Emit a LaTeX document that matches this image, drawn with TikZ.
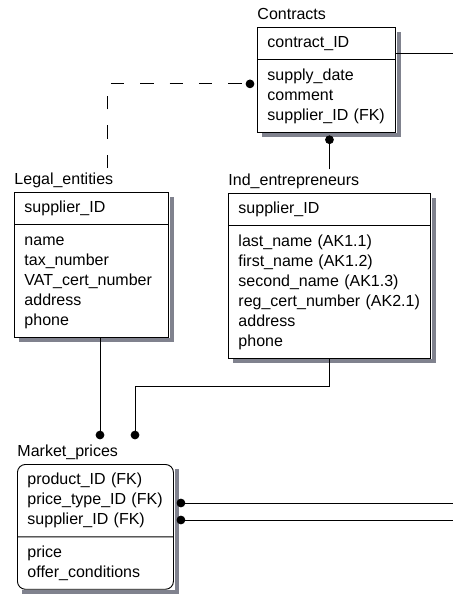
\documentclass[tikz,border=0pt]{standalone}
\usepackage{fontspec}
\setmainfont{Liberation Sans}
\usetikzlibrary{positioning, shapes.multipart, arrows.meta}
\definecolor{shadowgrey}{RGB}{128,130,142}
\tikzset{
	rel/.style={-{Circle[length=6.5pt]}, shorten >=2pt}, % filled dot at the child end
	entity/.style={rectangle split, rectangle split parts=2, draw, fill=white,
		inner xsep=7.5pt, inner ysep=4.3pt, align=left, font=\fontsize{12}{15}\selectfont}, % table with key part and attribute part
	eshadow/.style={fill=shadowgrey, draw=none}, % grey band right of and under a table
	etitle/.style={anchor=base west, inner sep=0pt, font=\fontsize{12}{15}\selectfont}, % name above a table
	idash/.style={dash pattern=on 10pt off 12pt}, % non-identifying relation
}

\begin{document}
\begin{tikzpicture}[x=0.75pt, y=-0.75pt, line width=0.7pt]
	\useasboundingbox (0,0) rectangle (453,600);
			\node[entity, text width=88.5pt, anchor=north west] at (257,27) (con)
				{\strut contract\_ID
				\nodepart{two}\strut supply\_date\\ \strut comment\\ \strut supplier\_ID (FK)};
			\node[entity, text width=100.5pt, anchor=north west] at (14,192) (leg)
				{\strut supplier\_ID
				\nodepart{two}\strut name\\ \strut tax\_number\\ \strut VAT\_cert\_number\\ \strut address\\ \strut phone};
			\node[entity, text width=136.5pt, anchor=north west] at (228,193) (ind)
				{\strut supplier\_ID
				\nodepart{two}\strut last\_name (AK1.1)\\ \strut first\_name (AK1.2)\\ \strut second\_name (AK1.3)\\
				\strut reg\_cert\_number (AK2.1)\\ \strut address\\ \strut phone};
			\node[entity, rounded corners=6pt, text width=102pt, anchor=north west] at (17,464) (mkt)
				{\strut product\_ID (FK)\\ \strut price\_type\_ID (FK)\\ \strut supplier\_ID (FK)
				\nodepart{two}\strut price\\ \strut offer\_conditions};
			\node[above right=5.5pt and 0pt of con.north west, etitle] (con-t) {Contracts};
			\node[above right=5.5pt and 0pt of leg.north west, etitle] (leg-t) {Legal\_entities};
			\node[above right=5.5pt and 0pt of ind.north west, etitle] (ind-t) {Ind\_entrepreneurs};
			\node[above right=5.5pt and 0pt of mkt.north west, etitle] (mkt-t) {Market\_prices};
	% shadow bands
	\foreach \ent in {con,leg,ind,mkt}{
		\fill[eshadow] ([xshift=0.5pt,yshift=-4pt]\ent.north east) rectangle ([xshift=3.5pt,yshift=-3.5pt]\ent.south east);
		\fill[eshadow] ([xshift=4pt,yshift=-0.5pt]\ent.south west) rectangle ([xshift=3.5pt,yshift=-3.5pt]\ent.south east);
	}
			\coordinate (con-out) at (453,53);
			\coordinate (leg-up) at (107,168);
			\coordinate (mkt-in1) at (100,442);
			\coordinate (mkt-in2) at (135,442);
			\coordinate (mkt-out1) at (453,503);
			\coordinate (mkt-out2) at (453,520);
	\draw	(con-out -| con.east) -- (con-out);
	\draw[rel, idash] (leg-up) |- ([yshift=-3pt]con.west);
	\draw[rel] ([yshift=3.2pt]ind-t.north -| ind.north) -- (con.south -| ind.north);
	\draw[rel] (leg.south -| mkt-in1) -- (mkt-in1);
	\draw[rel] (ind.south) -- ++(0,28) -| (mkt-in2);
	\draw[rel] (mkt-out1) -- (mkt-out1 -| mkt.east);
	\draw[rel] (mkt-out2) -- (mkt-out2 -| mkt.east);
	\end{tikzpicture}
\end{document}
